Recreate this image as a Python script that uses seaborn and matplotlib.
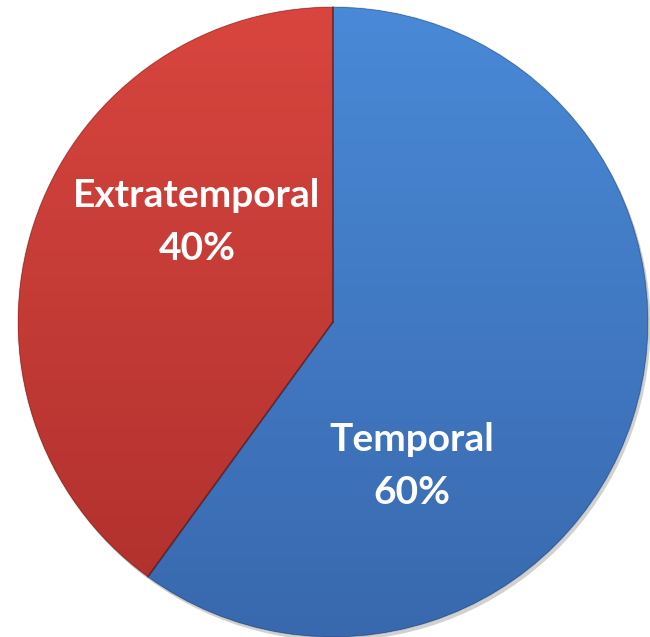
import numpy as np
import matplotlib.pyplot as plt
import matplotlib.colors as mcolors
from matplotlib.patches import Wedge
import seaborn as sns

# data
labels = ["Temporal", "Extratemporal"]
shares = [60, 40]
top_colors = ["#4a8ad8", "#d9463f"]
bottom_colors = ["#3868ad", "#ad2f2c"]
label_pos = [(0.251, -0.457), (-0.432, 0.317)]

sns.set_theme(style="white")
plt.rcParams['font.family'] = ['Lato', 'DejaVu Sans']

fig = plt.figure(figsize=(6.5, 6.37), dpi=100)
ax = fig.add_axes([0, 0, 1, 1])
ax.set_axis_off()

wedges, _ = ax.pie(shares, colors=top_colors, startangle=90, counterclock=False,
                   radius=1.0, wedgeprops=dict(linewidth=0))

# soft shadow under the pie
shadow = plt.Circle((0.008, -0.012), 1.0, color="#000000", alpha=0.18, zorder=0, lw=0)
ax.add_patch(shadow)

# vertical gradient fill per slice, clipped to the wedge
yy = np.linspace(0, 1, 256).reshape(-1, 1)
for w, c_top, c_bot in zip(wedges, top_colors, bottom_colors):
    cmap = mcolors.LinearSegmentedColormap.from_list("g", [c_bot, c_top])
    im = ax.imshow(yy, cmap=cmap, extent=(-1.05, 1.05, -1.05, 1.05),
                   origin="lower", aspect="auto", zorder=2)
    im.set_clip_path(w)
    # subtle rim along the slice
    ax.add_patch(Wedge((0, 0), 1.0, w.theta1, w.theta2,
                       fill=False, edgecolor="#00000030", lw=1.0, zorder=3))

# dark separators between slices
for w in wedges:
    a = np.deg2rad(w.theta1)
    ax.plot([0, np.cos(a)], [0, np.sin(a)], color="#5a2020", lw=1.2, alpha=0.55, zorder=4)

for lab, s, (x, y) in zip(labels, shares, label_pos):
    ax.text(x, y, f"{lab}\n{s}%", ha="center", va="center", color="white",
            fontsize=28, fontweight="bold", linespacing=1.6, zorder=5)

ax.set_xlim(-333 / 315, (650 - 333) / 315)
ax.set_ylim(-315 / 315, 322 / 315)

fig.savefig("out.png", dpi=100)
